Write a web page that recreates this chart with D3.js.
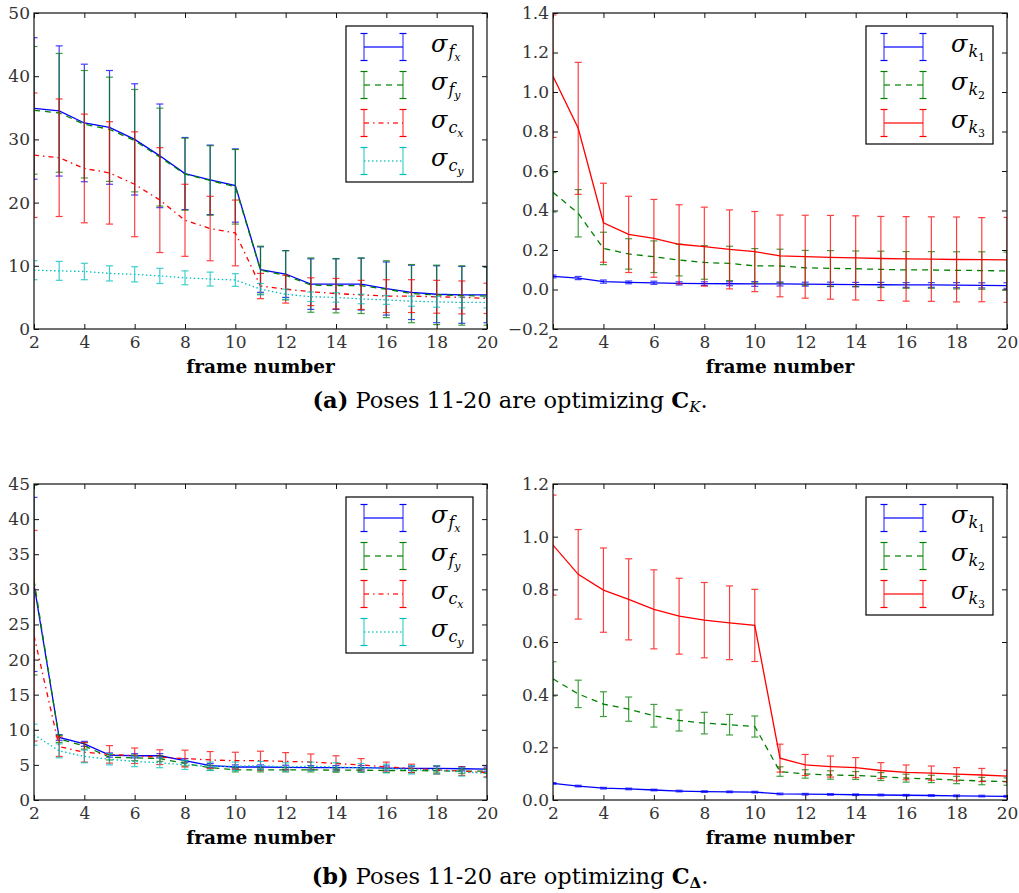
<!DOCTYPE html>
<html><head><meta charset="utf-8">
<script src="https://cdn.jsdelivr.net/npm/d3@7"></script>
<style>
body{margin:0;background:#fff;}
svg{display:block;}
svg text{font-family:"DejaVu Serif","Liberation Serif",serif !important;}
</style></head>
<body>
<svg id="chart" width="1019" height="893"></svg>
<script>
const frames = [2,3,4,5,6,7,8,9,10,11,12,13,14,15,16,17,18,19,20];
const xTicks = [2,4,6,8,10,12,14,16,18,20];

// (a) left panel
const a_fx    = [34.9,34.5,32.6,31.9,30.0,27.4,24.6,23.6,22.7,9.4,8.7,7.1,7.1,7.1,6.4,5.8,5.5,5.4,5.4];
const a_fxErr = [11.2,10.3,9.3,9.0,8.8,8.2,5.7,5.5,5.8,3.6,3.7,4.0,4.0,4.1,4.2,4.3,4.5,4.5,4.4];
const a_fy    = [34.6,34.2,32.4,31.6,29.8,27.2,24.5,23.5,22.5,9.3,8.5,6.95,6.85,6.85,6.3,5.6,5.4,5.3,5.2];
const a_fyErr = [10.1,9.4,8.5,8.25,8.1,7.75,5.7,5.5,5.9,3.8,3.9,4.3,4.3,4.4,4.5,4.6,4.7,4.7,4.6];
const a_cx    = [27.5,27.1,25.4,24.7,22.9,20.4,17.2,15.9,15.2,6.8,6.3,5.9,5.6,5.4,5.2,5.2,5.1,5.0,4.85];
const a_cxErr = [9.85,9.3,8.6,8.1,8.3,8.3,5.7,5.1,5.2,2.0,2.2,2.2,2.4,2.3,2.6,2.6,2.6,2.6,2.4];
const a_cy    = [9.3,9.2,9.1,8.8,8.65,8.4,8.1,7.9,7.75,6.3,5.5,5.1,5.0,4.75,4.6,4.4,4.3,4.2,4.2];
const a_cyErr = [1.5,1.5,1.3,1.2,1.2,1.2,1.1,1.1,1.0,0.9,0.8,0.75,0.75,0.75,0.7,0.8,0.85,0.85,0.85];
const a_leftTicks = [0,10,20,30,40,50];

// (a) right panel
const a_k1    = [0.066,0.058,0.040,0.036,0.034,0.031,0.030,0.029,0.028,0.028,0.027,0.026,0.025,0.024,0.023,0.023,0.022,0.021,0.020];
const a_k1Err = [0.007,0.008,0.008,0.007,0.008,0.008,0.009,0.010,0.012,0.010,0.010,0.011,0.011,0.012,0.012,0.012,0.013,0.013,0.014];
const a_k2    = [0.492,0.386,0.208,0.180,0.166,0.149,0.137,0.132,0.120,0.119,0.110,0.107,0.105,0.102,0.099,0.099,0.097,0.096,0.094];
const a_k2Err = [0.10,0.12,0.082,0.077,0.08,0.08,0.085,0.087,0.087,0.085,0.088,0.09,0.09,0.092,0.093,0.093,0.094,0.095,0.095];
const a_k3    = [1.08,0.816,0.338,0.279,0.259,0.229,0.217,0.203,0.192,0.170,0.166,0.163,0.160,0.157,0.155,0.154,0.152,0.151,0.150];
const a_k3Err = [0.31,0.334,0.20,0.193,0.197,0.20,0.20,0.20,0.203,0.207,0.21,0.212,0.213,0.213,0.214,0.214,0.215,0.213,0.215];
const a_rightTicks = [-0.2,0,0.2,0.4,0.6,0.8,1.0,1.2,1.4];

// (b) left panel
const b_fx    = [30.7,8.9,8.0,6.4,6.3,6.3,5.6,4.9,4.7,4.7,4.65,4.6,4.6,4.6,4.55,4.5,4.5,4.45,4.4];
const b_fxErr = [12.4,0.4,0.35,0.3,0.3,0.3,0.3,0.3,0.3,0.3,0.3,0.3,0.3,0.3,0.3,0.3,0.3,0.3,0.3];
const b_fy    = [31.3,8.7,7.7,6.1,6.0,5.9,5.2,4.6,4.3,4.3,4.3,4.3,4.25,4.25,4.2,4.2,4.15,4.1,4.1];
const b_fyErr = [13.5,0.5,0.45,0.4,0.4,0.4,0.35,0.35,0.3,0.3,0.3,0.3,0.3,0.3,0.3,0.3,0.3,0.3,0.3];
const b_cx    = [23.4,7.6,6.8,6.5,6.3,6.1,5.9,5.7,5.6,5.6,5.5,5.4,5.2,5.0,4.7,4.5,4.3,4.1,3.9];
const b_cxErr = [15.0,1.4,1.4,1.25,1.1,1.05,1.2,1.2,1.2,1.35,1.25,1.15,1.1,0.9,0.7,0.6,0.6,0.6,0.6];
const b_cy    = [9.3,7.0,6.2,5.8,5.5,5.3,5.0,4.8,4.8,4.9,4.7,4.8,4.7,4.6,4.5,4.3,4.3,4.0,3.8];
const b_cyErr = [1.5,1.0,0.9,0.8,0.75,0.7,0.65,0.6,0.6,0.6,0.6,0.6,0.6,0.6,0.6,0.6,0.6,0.6,0.6];
const b_leftTicks = [0,5,10,15,20,25,30,35,40,45];

// (b) right panel
const b_k1    = [0.063,0.053,0.045,0.042,0.038,0.034,0.032,0.031,0.030,0.023,0.022,0.021,0.020,0.019,0.018,0.017,0.016,0.015,0.014];
const b_k1Err = [0.003,0.003,0.003,0.003,0.003,0.003,0.003,0.003,0.003,0.003,0.003,0.003,0.003,0.003,0.003,0.003,0.003,0.003,0.003];
const b_k2    = [0.46,0.403,0.364,0.345,0.32,0.302,0.292,0.286,0.279,0.108,0.099,0.095,0.093,0.089,0.083,0.080,0.076,0.072,0.070];
const b_k2Err = [0.065,0.052,0.047,0.046,0.043,0.040,0.041,0.039,0.040,0.018,0.016,0.016,0.015,0.015,0.015,0.014,0.014,0.014,0.014];
const b_k3    = [0.968,0.857,0.797,0.762,0.724,0.698,0.683,0.673,0.663,0.159,0.133,0.127,0.123,0.112,0.105,0.102,0.098,0.095,0.091];
const b_k3Err = [0.19,0.17,0.16,0.154,0.15,0.144,0.143,0.14,0.137,0.053,0.04,0.04,0.038,0.03,0.028,0.027,0.025,0.025,0.022];
const b_rightTicks = [0,0.2,0.4,0.6,0.8,1.0,1.2];

const xLabel = "frame number";
const captionA = {tag:"(a)", text:" Poses 11-20 are optimizing ", sym:"C", sub:"K"};
const captionB = {tag:"(b)", text:" Poses 11-20 are optimizing ", sym:"C", sub:"Δ"};

const BLUE="#0000ff", GREEN="#008000", RED="#ff0000", CYAN="#00bfbf";
const STY = { solid:null, dashed:"6,5", dashdot:"5,4,1.5,4", dotted:"1.5,2.5" };

const svg = d3.select("#chart");
let clipId = 0;

function fmtTick(v, dec){
  return v.toFixed(dec).replace("-", "\u2212");
}

function panel(opts){
  const {x0,x1,y0,y1,domain,yTicks,dec,series} = opts;
  const xs = d3.scaleLinear().domain([2,20]).range([x0,x1]);
  const ys = d3.scaleLinear().domain(domain).range([y1,y0]);
  const g = svg.append("g");
  const cid = "clip"+(clipId++);
  svg.append("clipPath").attr("id",cid).append("rect")
    .attr("x",x0).attr("y",y0).attr("width",x1-x0).attr("height",y1-y0);
  const plot = g.append("g").attr("clip-path",`url(#${cid})`);

  series.forEach(s=>{
    const pts = frames.map((f,i)=>({x:f,y:s.v[i],e:s.e[i]}));
    const eb = plot.append("g").attr("stroke",s.color).attr("stroke-width",1.2).attr("opacity",0.75);
    pts.forEach(p=>{
      const px = xs(p.x), top = ys(p.y+p.e), bot = ys(p.y-p.e);
      eb.append("line").attr("x1",px).attr("x2",px).attr("y1",top).attr("y2",bot);
      eb.append("line").attr("x1",px-3.5).attr("x2",px+3.5).attr("y1",top).attr("y2",top);
      eb.append("line").attr("x1",px-3.5).attr("x2",px+3.5).attr("y1",bot).attr("y2",bot);
    });
    plot.append("path").datum(pts)
      .attr("d",d3.line().x(d=>xs(d.x)).y(d=>ys(d.y)))
      .attr("fill","none").attr("stroke",s.color).attr("stroke-width",1.3)
      .attr("stroke-dasharray",STY[s.style]);
  });

  g.append("rect").attr("x",x0).attr("y",y0).attr("width",x1-x0).attr("height",y1-y0)
    .attr("fill","none").attr("stroke","#111").attr("stroke-width",1.2);

  const axB = d3.axisBottom(xs).tickValues(xTicks).tickSize(-5).tickPadding(7).tickFormat(d3.format("d"));
  const axT = d3.axisTop(xs).tickValues(xTicks).tickSize(-5).tickFormat("");
  const axL = d3.axisLeft(ys).tickValues(yTicks).tickSize(-5).tickPadding(4).tickFormat(v=>fmtTick(v,dec));
  const axR = d3.axisRight(ys).tickValues(yTicks).tickSize(-5).tickFormat("");
  [[axB,`translate(0,${y1})`],[axT,`translate(0,${y0})`],[axL,`translate(${x0},0)`],[axR,`translate(${x1},0)`]]
  .forEach(([ax,tr])=>{
    const a = g.append("g").attr("transform",tr).call(ax);
    a.attr("font-family",null);
    a.select(".domain").remove();
    a.selectAll("line").attr("stroke","#111");
    a.selectAll("text").attr("font-size",17).attr("fill","#333");
  });

  g.append("text").attr("x",(x0+x1)/2).attr("y",y1+44).attr("text-anchor","middle")
    .attr("font-size",18.5).attr("font-weight","bold").attr("fill","#000").text(xLabel);

  const n = series.length;
  const bw = 127, rowH = 38;
  const bx = x1-14-bw, by = y0+13;
  const bh = 42 + rowH*(n-1);
  const lg = g.append("g");
  lg.append("rect").attr("x",bx).attr("y",by).attr("width",bw).attr("height",bh)
    .attr("fill","#fff").attr("stroke","#000").attr("stroke-width",1.2);
  series.forEach((s,i)=>{
    const cy = by+21+i*rowH;
    const hx0 = bx+18, hx1 = bx+57;
    const h = lg.append("g").attr("stroke",s.color).attr("stroke-width",1.2);
    h.append("line").attr("x1",hx0).attr("x2",hx1).attr("y1",cy).attr("y2",cy)
      .attr("stroke-width",1.3).attr("stroke-dasharray",STY[s.style]).attr("opacity",0.8);
    [hx0,hx1].forEach(hx=>{
      h.append("line").attr("x1",hx).attr("x2",hx).attr("y1",cy-13.5).attr("y2",cy+13.5).attr("opacity",0.75);
      h.append("line").attr("x1",hx-3.5).attr("x2",hx+3.5).attr("y1",cy-13.5).attr("y2",cy-13.5);
      h.append("line").attr("x1",hx-3.5).attr("x2",hx+3.5).attr("y1",cy+13.5).attr("y2",cy+13.5);
    });
    const t = lg.append("text").attr("x",bx+85).attr("y",cy+5).attr("fill","#000");
    t.append("tspan").attr("font-size",24).attr("font-style","italic").text("σ");
    t.append("tspan").attr("font-size",16).attr("font-style","italic").attr("dy",5).attr("dx",1).text(s.sub[0]);
    t.append("tspan").attr("font-size",11).attr("font-style",/[0-9]/.test(s.sub[1])?"normal":"italic").attr("dy",4).text(s.sub[1]);
  });
}

function caption(c, y){
  const t = svg.append("text").attr("x",510).attr("y",y).attr("text-anchor","middle")
    .attr("font-size",22.5).attr("fill","#000");
  t.append("tspan").attr("font-weight","bold").text(c.tag);
  t.append("tspan").text(c.text);
  t.append("tspan").attr("font-weight","bold").text(c.sym);
  t.append("tspan").attr("font-size",15).attr("font-style",c.sub==="K"?"italic":"normal")
    .attr("font-weight",c.sub==="K"?"normal":"bold").attr("dy",4).text(c.sub);
  t.append("tspan").attr("dy",-4).text(".");
}

panel({x0:34,x1:487,y0:13,y1:329,domain:[0,50],yTicks:a_leftTicks,dec:0,series:[
  {v:a_fx,e:a_fxErr,color:BLUE,style:"solid",sub:["f","x"]},
  {v:a_fy,e:a_fyErr,color:GREEN,style:"dashed",sub:["f","y"]},
  {v:a_cx,e:a_cxErr,color:RED,style:"dashdot",sub:["c","x"]},
  {v:a_cy,e:a_cyErr,color:CYAN,style:"dotted",sub:["c","y"]}
]});
panel({x0:553,x1:1007,y0:13,y1:329,domain:[-0.2,1.4],yTicks:a_rightTicks,dec:1,series:[
  {v:a_k1,e:a_k1Err,color:BLUE,style:"solid",sub:["k","1"]},
  {v:a_k2,e:a_k2Err,color:GREEN,style:"dashed",sub:["k","2"]},
  {v:a_k3,e:a_k3Err,color:RED,style:"solid",sub:["k","3"]}
]});
panel({x0:34,x1:487,y0:484,y1:800,domain:[0,45],yTicks:b_leftTicks,dec:0,series:[
  {v:b_fx,e:b_fxErr,color:BLUE,style:"solid",sub:["f","x"]},
  {v:b_fy,e:b_fyErr,color:GREEN,style:"dashed",sub:["f","y"]},
  {v:b_cx,e:b_cxErr,color:RED,style:"dashdot",sub:["c","x"]},
  {v:b_cy,e:b_cyErr,color:CYAN,style:"dotted",sub:["c","y"]}
]});
panel({x0:553,x1:1007,y0:484,y1:800,domain:[0,1.2],yTicks:b_rightTicks,dec:1,series:[
  {v:b_k1,e:b_k1Err,color:BLUE,style:"solid",sub:["k","1"]},
  {v:b_k2,e:b_k2Err,color:GREEN,style:"dashed",sub:["k","2"]},
  {v:b_k3,e:b_k3Err,color:RED,style:"solid",sub:["k","3"]}
]});
caption(captionA, 408);
caption(captionB, 884);
</script>
</body></html>
